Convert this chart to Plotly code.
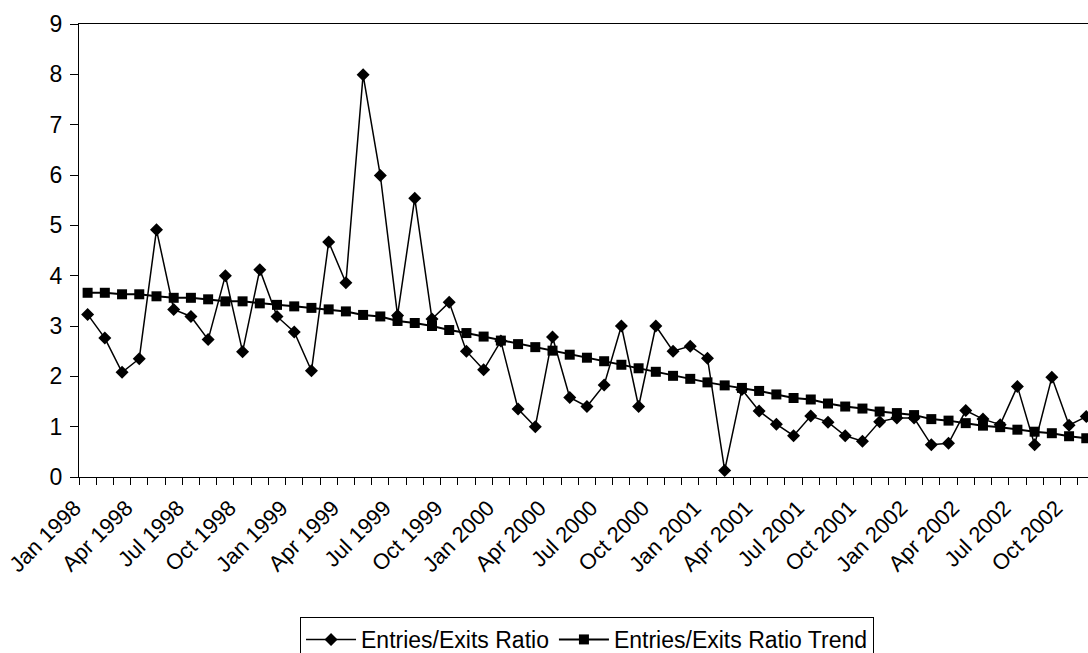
import plotly.graph_objects as go

month_names = ["Jan", "Feb", "Mar", "Apr", "May", "Jun",
               "Jul", "Aug", "Sep", "Oct", "Nov", "Dec"]
years = [1998, 1999, 2000, 2001, 2002]
months = [f"{m} {y}" for y in years for m in month_names][:59]  # Jan 1998 .. Nov 2002

ratio = [3.23, 2.76, 2.08, 2.35, 4.91, 3.33, 3.19, 2.73, 4.00, 2.49, 4.12, 3.19,
         2.88, 2.11, 4.67, 3.86, 7.99, 5.99, 3.21, 5.54, 3.14, 3.47, 2.50, 2.13,
         2.70, 1.35, 1.00, 2.78, 1.58, 1.40, 1.83, 3.00, 1.40, 3.00, 2.50, 2.60,
         2.36, 0.13, 1.74, 1.31, 1.05, 0.82, 1.21, 1.09, 0.82, 0.71, 1.10, 1.17,
         1.17, 0.64, 0.67, 1.32, 1.15, 1.04, 1.80, 0.64, 1.98, 1.03, 1.20]

trend = [3.66, 3.66, 3.63, 3.63, 3.59, 3.56, 3.56, 3.53, 3.49, 3.49, 3.45, 3.42,
         3.39, 3.36, 3.33, 3.29, 3.22, 3.19, 3.10, 3.06, 3.00, 2.92, 2.86, 2.79,
         2.71, 2.64, 2.58, 2.51, 2.43, 2.37, 2.30, 2.23, 2.16, 2.09, 2.01, 1.95,
         1.88, 1.82, 1.77, 1.71, 1.64, 1.57, 1.54, 1.46, 1.40, 1.36, 1.30, 1.27,
         1.23, 1.15, 1.12, 1.07, 1.02, 0.99, 0.94, 0.90, 0.87, 0.81, 0.77]

x_idx = list(range(len(months)))
# tick marks at month boundaries; labels every 3 months, ending at the boundary
boundaries = [i - 0.5 for i in range(len(months))]
label_idx = [i for i in range(len(months)) if i % 3 == 0]
label_vals = [i - 0.5 for i in label_idx]
label_text = [months[i] + "\u00a0" for i in label_idx]

FONT = "Arial, Liberation Sans, sans-serif"

fig = go.Figure()
fig.add_trace(go.Scatter(
    x=x_idx, y=ratio, name="Entries/Exits Ratio", mode="lines+markers",
    line=dict(color="black", width=1.5),
    marker=dict(symbol="diamond", size=10, color="black"),
    customdata=months, hovertemplate="%{customdata}: %{y}<extra></extra>",
))
fig.add_trace(go.Scatter(
    x=x_idx, y=trend, name="Entries/Exits Ratio Trend", mode="lines+markers",
    line=dict(color="black", width=2),
    marker=dict(symbol="square", size=10, color="black"),
    customdata=months, hovertemplate="%{customdata}: %{y}<extra></extra>",
))

fig.update_layout(
    width=1088, height=653,
    margin=dict(l=79, r=0, t=24, b=176, autoexpand=False),
    paper_bgcolor="white", plot_bgcolor="white",
    font=dict(family=FONT, size=23, color="black"),
    showlegend=True,
    legend=dict(
        orientation="h", x=0.5035, xanchor="center", y=-0.309, yanchor="top",
        bordercolor="black", borderwidth=1, font=dict(size=23),
        itemwidth=50, tracegroupgap=0,
    ),
    xaxis=dict(
        range=[-0.5, 58.1], tickmode="array", tickvals=label_vals, ticktext=label_text,
        tickangle=-45, ticks="", ticklabeloverflow="allow",
        minor=dict(tickmode="array", tickvals=boundaries, ticks="outside",
                   ticklen=7, tickcolor="black", tickwidth=1, showgrid=False),
        showline=True, linecolor="black", linewidth=1, mirror=True,
        showgrid=False, zeroline=False, ticklabelstandoff=4,
        tickfont=dict(size=22),
    ),
    yaxis=dict(
        range=[0, 9], dtick=1, tick0=0, ticks="outside", ticklen=8, tickcolor="black",
        showline=True, linecolor="black", linewidth=1,
        showgrid=False, zeroline=False, ticklabelstandoff=3,
        tickfont=dict(size=23),
    ),
)

fig.write_html(
    "out.html",
    config={"displayModeBar": False},
    post_script="document.body.style.margin='0';document.body.style.overflow='hidden';",
)
